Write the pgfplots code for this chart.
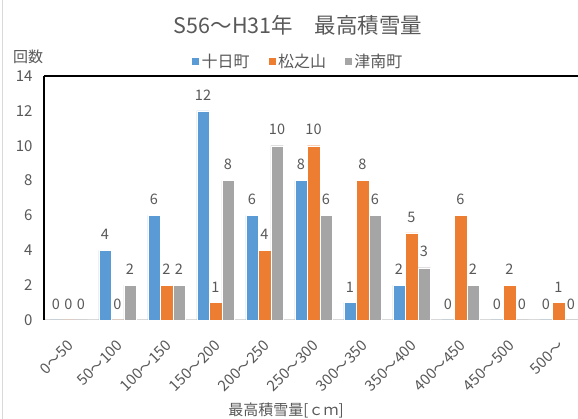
\documentclass[border=0pt]{standalone}
\usepackage{fontspec}
\setmainfont{Noto Sans CJK JP}
\usepackage{pgfplots}
\pgfplotsset{compat=1.18}
\definecolor{cblue}{HTML}{5B9BD5}
\definecolor{corange}{HTML}{ED7D31}
\definecolor{cgray}{HTML}{A5A5A5}
\definecolor{ctext}{HTML}{595959}
\definecolor{cline}{HTML}{D9D9D9}
\begin{document}
\begin{tikzpicture}[x=1pt,y=1pt]
\useasboundingbox (0,0) rectangle (578,419);
\fill[white] (0,0) rectangle (578,419);
\draw[cline, line width=1pt] (2,0) -- (2,419);
\node[text=ctext, font=\fontsize{21.5}{21.5}\selectfont] at (298,394) {S56～H31年　最高積雪量};
\node[text=ctext, font=\fontsize{15}{15}\selectfont] at (28,362) {回数};
\node[text=ctext, font=\fontsize{15}{15}\selectfont] at (286,9) {最高積雪量[ｃｍ]};
\begin{axis}[
  at={(44pt,99pt)}, anchor=south west,
  scale only axis, width=539pt, height=244pt,
  xmin=-0.5, xmax=10.5, ymin=0, ymax=14,
  ybar=0pt, bar width=12.5pt,
  axis x line*=bottom, axis y line*=left,
  x axis line style={cline, line width=1pt, -},
  y axis line style={black, line width=1.5pt, -},
  xtick={0,...,10},
  xticklabels={0～50,50～100,100～150,150～200,200～250,250～300,300～350,350～400,400～450,450～500,500～},
  major tick length=0pt,
  ytick={0,2,...,14},
  tick label style={font=\fontsize{15}{15}\selectfont, text=ctext},
  yticklabel style={xshift=-8pt},
  xticklabel style={rotate=45, anchor=east, xshift=-11pt, yshift=-18pt},
  /pgf/number format/assume math mode=true,
  nodes near coords,
  every node near coord/.append style={font=\fontsize{14.5}{14.5}\selectfont, text=ctext, yshift=7pt},
  clip=false,
  legend columns=3,
  legend style={at={(0.471,1.061)}, anchor=center, draw=none, fill=none,
    font=\fontsize{16}{16}\selectfont, text=ctext,
    /tikz/every even column/.append style={column sep=16pt}},
  legend image code/.code={\fill[#1] (-5pt,-4pt) rectangle (3pt,4pt);},
]
\addplot[fill=cblue, draw=white, line width=0.4pt] coordinates {(0,0) (1,4) (2,6) (3,12) (4,6) (5,8) (6,1) (7,2) (8,0) (9,0) (10,0)};
\addplot[fill=corange, draw=white, line width=0.4pt] coordinates {(0,0) (1,0) (2,2) (3,1) (4,4) (5,10) (6,8) (7,5) (8,6) (9,2) (10,1)};
\addplot[fill=cgray, draw=white, line width=0.4pt] coordinates {(0,0) (1,2) (2,2) (3,8) (4,10) (5,6) (6,6) (7,3) (8,2) (9,0) (10,0)};
\legend{十日町,松之山,津南町}
\draw[black, line width=1.5pt] (rel axis cs:0,1) -- (rel axis cs:1,1);
\end{axis}
\end{tikzpicture}
\end{document}
